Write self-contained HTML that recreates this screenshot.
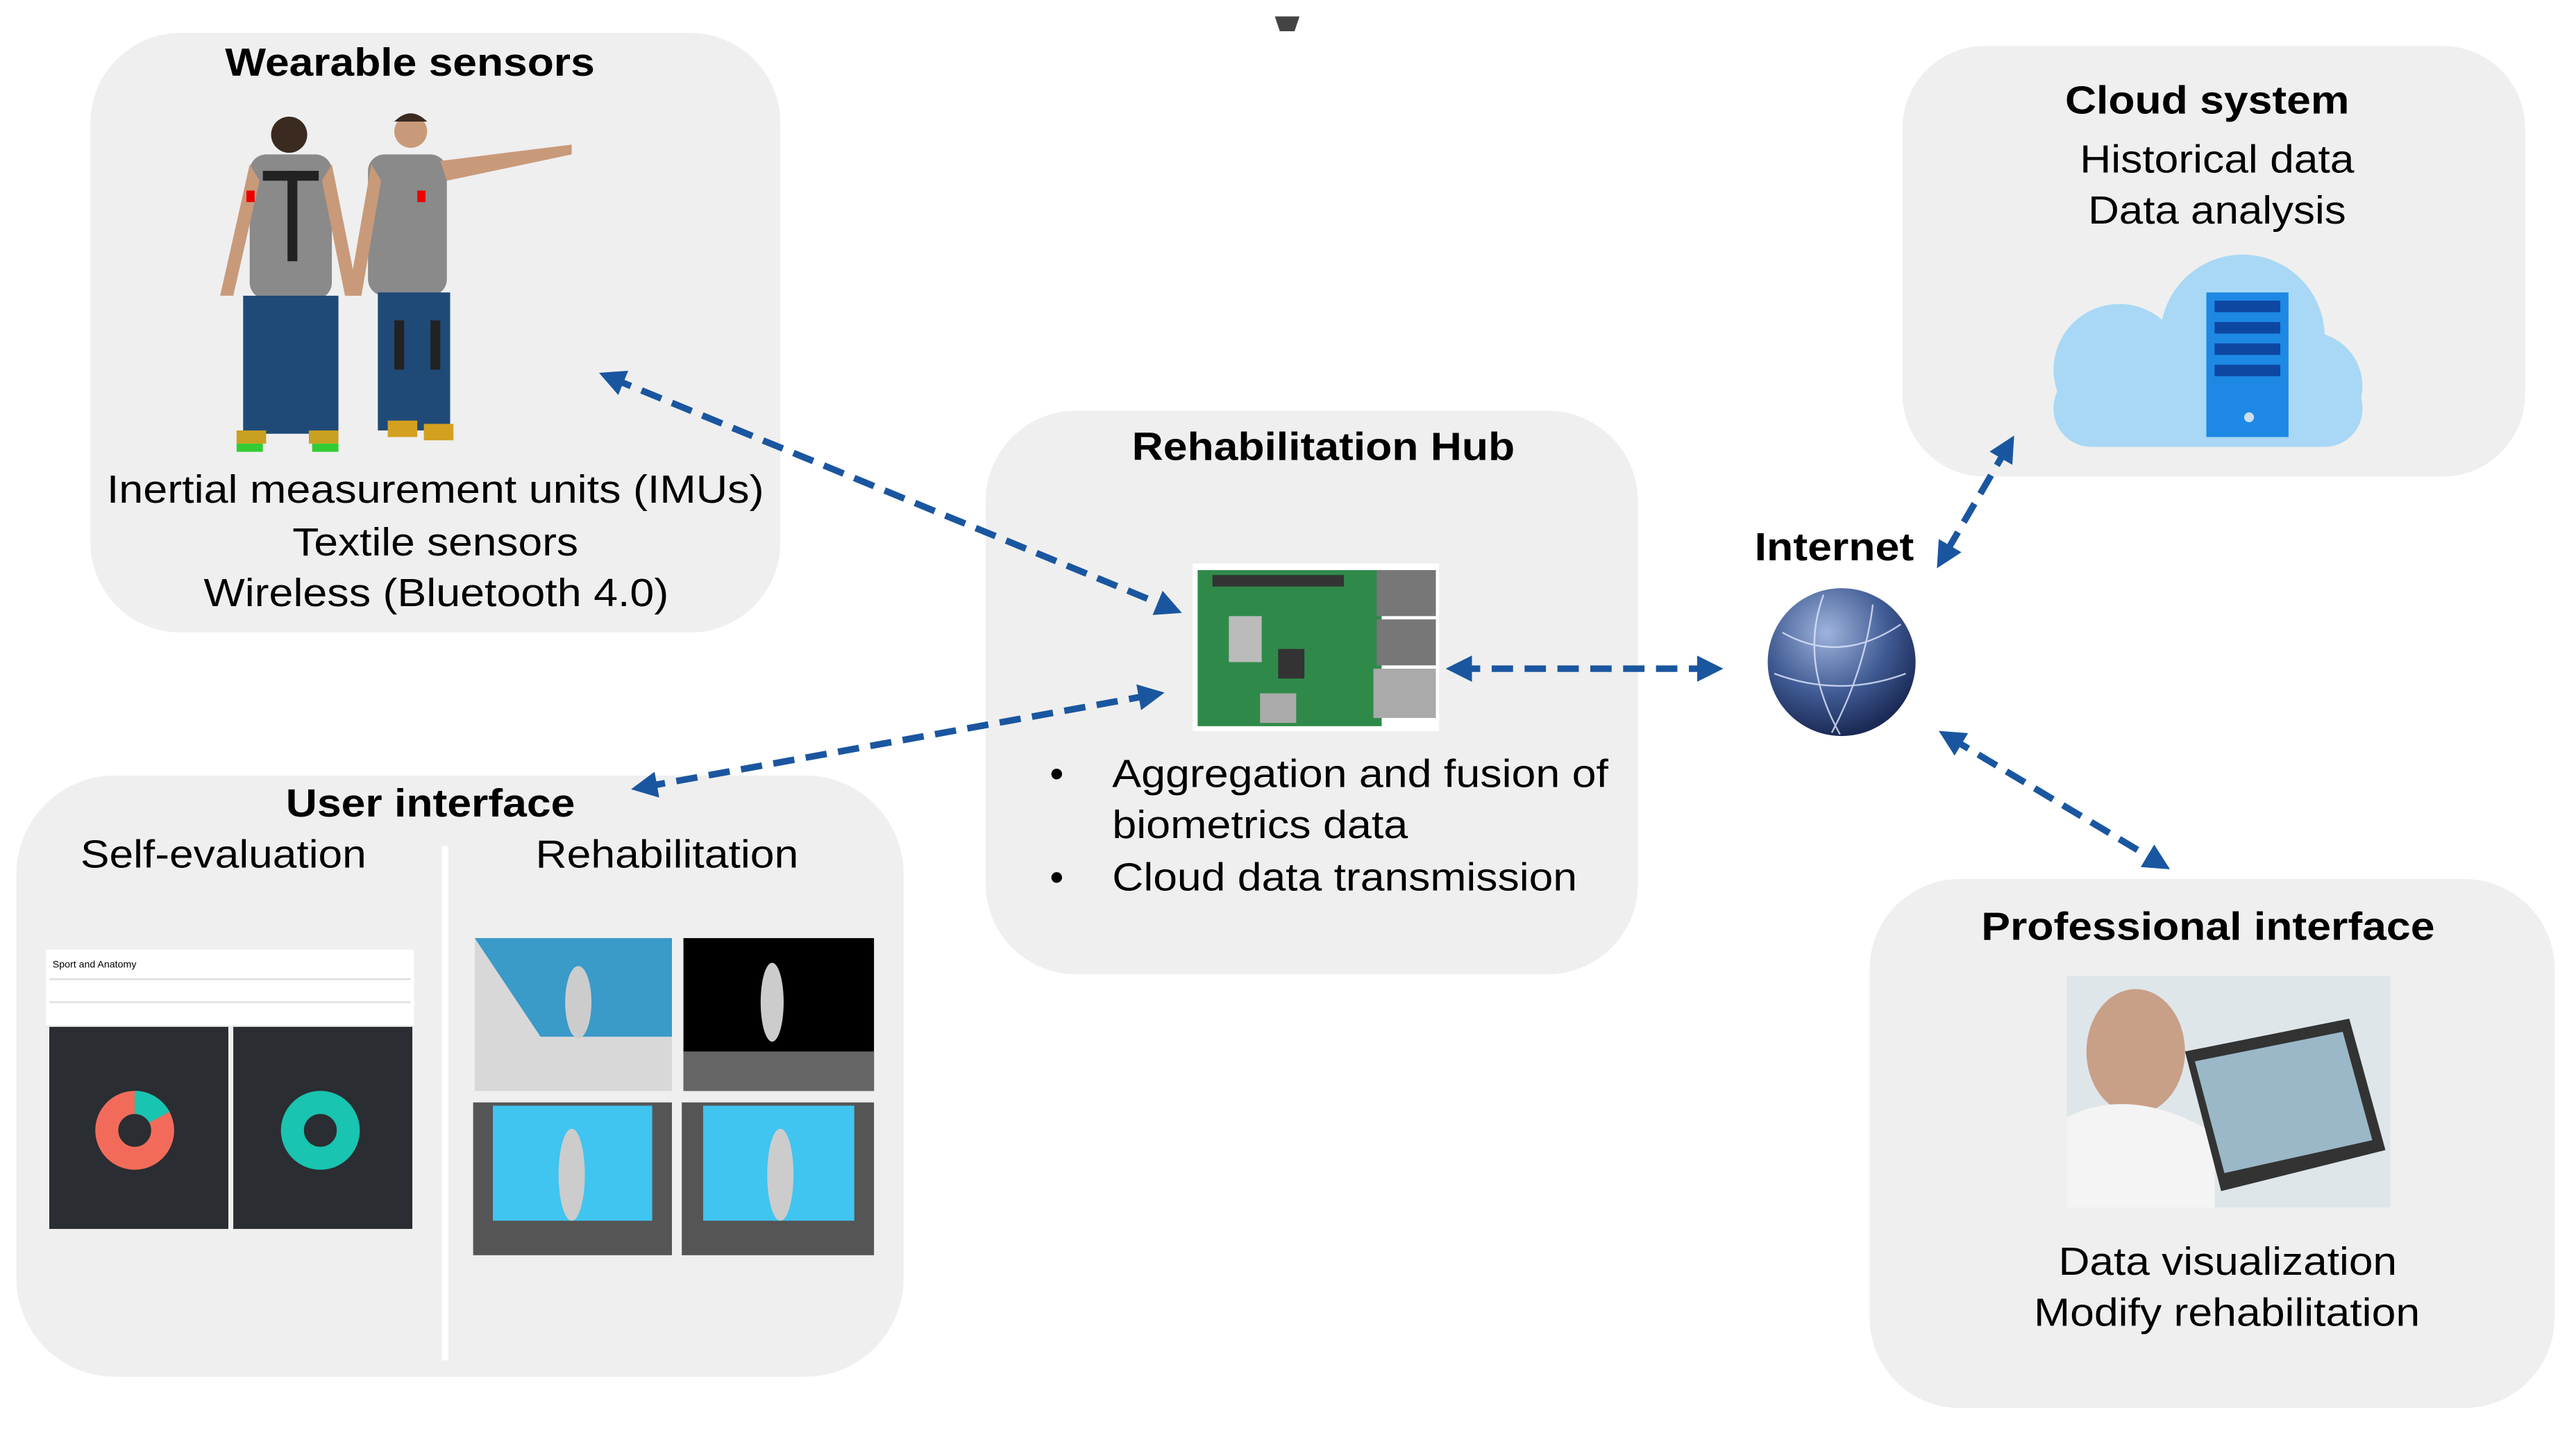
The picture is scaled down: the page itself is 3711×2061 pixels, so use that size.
<!DOCTYPE html>
<html><head><meta charset="utf-8"><style>
html,body{margin:0;padding:0;background:#fff;}
svg{display:block;}
text{font-family:"Liberation Sans",Arial,sans-serif;fill:#000;}
.t{font-size:24px;font-weight:bold;}
.b{font-size:24px;}
</style></head><body>
<svg width="3711" height="2061" viewBox="0 0 1568 871" preserveAspectRatio="none" xmlns="http://www.w3.org/2000/svg">
<defs>
<marker id="ah" viewBox="0 0 10 10" refX="5" refY="5" markerWidth="4" markerHeight="4" orient="auto-start-reverse">
<path d="M0,0 L10,5 L0,10 z" fill="#1a56a0"/></marker>
<radialGradient id="gl" cx="40%" cy="30%" r="70%"><stop offset="0" stop-color="#9fb4dc"/><stop offset="0.6" stop-color="#3f5a93"/><stop offset="1" stop-color="#1b2a55"/></radialGradient>
</defs>
<path d="M776,10 h15 l-3,9 h-9z" fill="#444"/>
<rect x="55" y="20" width="420" height="365" rx="55" fill="#efefef"/>
<rect x="1158" y="28" width="379" height="262" rx="50" fill="#efefef"/>
<rect x="600" y="250" width="397" height="343" rx="55" fill="#efefef"/>
<rect x="10" y="472" width="540" height="366" rx="60" fill="#efefef"/>
<rect x="1138" y="535" width="417" height="322" rx="55" fill="#efefef"/>

<text class="t" x="137" y="46" textLength="225" lengthAdjust="spacingAndGlyphs">Wearable sensors</text>
<g>
<circle cx="176" cy="82" r="11" fill="#3a2a20"/>
<rect x="152" y="94" width="50" height="88" rx="10" fill="#8a8a8a"/>
<rect x="175" y="104" width="6" height="55" fill="#222"/>
<rect x="160" y="104" width="34" height="6" fill="#222"/>
<path d="M152,100 l-18,80 h8 l16,-70z M202,100 l16,80 h-8 l-14,-70z" fill="#c89a7a"/>
<rect x="148" y="180" width="58" height="84" fill="#1f4a78"/>
<rect x="144" y="262" width="18" height="8" fill="#c9a020"/><rect x="188" y="262" width="18" height="8" fill="#c9a020"/>
<rect x="144" y="270" width="16" height="5" fill="#3c3"/><rect x="190" y="270" width="16" height="5" fill="#3c3"/>
<circle cx="250" cy="80" r="10" fill="#c89a7a"/><path d="M240,74 q10,-10 20,0z" fill="#3a2a20"/>
<rect x="224" y="94" width="48" height="86" rx="10" fill="#8a8a8a"/>
<path d="M268,98 L348,88 L348,94 L272,110z" fill="#c89a7a"/>
<path d="M226,100 l-14,80 h8 l12,-70z" fill="#c89a7a"/>
<rect x="230" y="178" width="44" height="84" fill="#1f4a78"/>
<rect x="240" y="195" width="6" height="30" fill="#222"/><rect x="262" y="195" width="6" height="30" fill="#222"/>
<rect x="254" y="116" width="5" height="7" fill="#e00"/><rect x="150" y="116" width="5" height="7" fill="#e00"/>
<rect x="236" y="256" width="18" height="10" fill="#d4a020"/><rect x="258" y="258" width="18" height="10" fill="#d4a020"/>
</g>
<text class="b" x="65" y="306" textLength="400" lengthAdjust="spacingAndGlyphs">Inertial measurement units (IMUs)</text>
<text class="b" x="178" y="338" textLength="174" lengthAdjust="spacingAndGlyphs">Textile sensors</text>
<text class="b" x="124" y="369" textLength="283" lengthAdjust="spacingAndGlyphs">Wireless (Bluetooth 4.0)</text>

<text class="t" x="1257" y="69" textLength="173" lengthAdjust="spacingAndGlyphs">Cloud system</text>
<text class="b" x="1266" y="105" textLength="167" lengthAdjust="spacingAndGlyphs">Historical data</text>
<text class="b" x="1271" y="136" textLength="157" lengthAdjust="spacingAndGlyphs">Data analysis</text>
<g fill="#a8d8f5">
<circle cx="1290" cy="225" r="40"/><circle cx="1365" cy="205" r="50"/><circle cx="1405" cy="235" r="33"/>
<rect x="1250" y="225" width="188" height="47" rx="23"/>
</g>
<rect x="1343" y="178" width="50" height="88" fill="#1e88e5"/>
<g fill="#0d47a1"><rect x="1348" y="183" width="40" height="7"/><rect x="1348" y="196" width="40" height="7"/><rect x="1348" y="209" width="40" height="7"/><rect x="1348" y="222" width="40" height="7"/></g>
<circle cx="1369" cy="254" r="3" fill="#cde"/>

<text class="t" x="689" y="280" textLength="233" lengthAdjust="spacingAndGlyphs">Rehabilitation Hub</text>
<rect x="726" y="343" width="150" height="102" fill="#fff"/>
<rect x="729" y="347" width="112" height="95" fill="#2f8a4a"/>
<rect x="738" y="350" width="80" height="7" fill="#333"/>
<rect x="838" y="347" width="36" height="28" fill="#777"/><rect x="838" y="377" width="36" height="28" fill="#777"/><rect x="836" y="407" width="38" height="30" fill="#aaa"/>
<rect x="748" y="375" width="20" height="28" fill="#bbb"/><rect x="778" y="395" width="16" height="18" fill="#333"/>
<rect x="767" y="422" width="22" height="18" fill="#aaa"/>
<text class="b" x="639" y="479">•</text><text class="b" x="677" y="479" textLength="302" lengthAdjust="spacingAndGlyphs">Aggregation and fusion of</text>
<text class="b" x="677" y="510" textLength="180" lengthAdjust="spacingAndGlyphs">biometrics data</text>
<text class="b" x="639" y="542">•</text><text class="b" x="677" y="542" textLength="283" lengthAdjust="spacingAndGlyphs">Cloud data transmission</text>

<text class="t" x="1068" y="341" textLength="97" lengthAdjust="spacingAndGlyphs">Internet</text>
<ellipse cx="1121" cy="403" rx="45" ry="45" fill="url(#gl)"/>
<g stroke="#dfe8ff" stroke-width="1" fill="none" opacity="0.8"><path d="M1085,385 q35,20 72,-5"/><path d="M1080,410 q40,15 80,0"/><path d="M1110,362 q-15,40 10,85"/><path d="M1140,368 q-5,40 -25,78"/></g>

<text class="t" x="174" y="497" textLength="176" lengthAdjust="spacingAndGlyphs">User interface</text>
<text class="b" x="49" y="528" textLength="174" lengthAdjust="spacingAndGlyphs">Self-evaluation</text>
<text class="b" x="326" y="528" textLength="160" lengthAdjust="spacingAndGlyphs">Rehabilitation</text>
<rect x="269" y="515" width="4" height="313" fill="#fff"/>
<rect x="28" y="578" width="224" height="46" fill="#fff"/>
<text x="32" y="589" style="font-size:6px">Sport and Anatomy</text>
<line x1="30" y1="596" x2="250" y2="596" stroke="#ddd"/><line x1="30" y1="610" x2="250" y2="610" stroke="#ddd"/>
<rect x="30" y="625" width="109" height="123" fill="#2a2d32"/>
<rect x="142" y="625" width="109" height="123" fill="#2a2d32"/>
<circle cx="82" cy="688" r="17" fill="none" stroke="#f26b5a" stroke-width="14"/>
<path d="M82,671 a17,17 0 0 1 15,9" fill="none" stroke="#19c4b0" stroke-width="14"/>
<circle cx="195" cy="688" r="17" fill="none" stroke="#19c4b0" stroke-width="14"/>
<rect x="289" y="571" width="120" height="93" fill="#d8d8d8"/><path d="M289,571 h120 v60 l-80,0 -40,-60z" fill="#3a9ac8"/>
<rect x="416" y="571" width="116" height="93" fill="#000"/><path d="M416,640 h116 v24 h-116z" fill="#666"/>
<rect x="288" y="671" width="121" height="93" fill="#555"/><rect x="300" y="673" width="97" height="70" fill="#40c4f0"/>
<rect x="415" y="671" width="117" height="93" fill="#555"/><rect x="428" y="673" width="92" height="70" fill="#40c4f0"/>
<g fill="#ccc"><ellipse cx="352" cy="610" rx="8" ry="22"/><ellipse cx="470" cy="610" rx="7" ry="24"/><ellipse cx="348" cy="715" rx="8" ry="28"/><ellipse cx="475" cy="715" rx="8" ry="28"/></g>

<text class="t" x="1206" y="572" textLength="276" lengthAdjust="spacingAndGlyphs">Professional interface</text>
<rect x="1258" y="594" width="197" height="141" fill="#dfe6ea"/>
<ellipse cx="1300" cy="640" rx="30" ry="38" fill="#c8a088"/>
<path d="M1258,680 q40,-20 90,10 v45 h-90z" fill="#f4f4f4"/>
<path d="M1330,640 l100,-20 l22,80 l-100,25z" fill="#333"/><path d="M1336,646 l90,-18 l18,66 l-90,20z" fill="#9bb8c8"/>
<text class="b" x="1253" y="776" textLength="206" lengthAdjust="spacingAndGlyphs">Data visualization</text>
<text class="b" x="1238" y="807" textLength="235" lengthAdjust="spacingAndGlyphs">Modify rehabilitation</text>

<g stroke="#1a56a0" stroke-width="4" stroke-dasharray="13,7" fill="none" marker-start="url(#ah)" marker-end="url(#ah)">
<line x1="372" y1="230" x2="712" y2="370"/>
<line x1="392" y1="479" x2="701" y2="423"/>
<line x1="888" y1="407" x2="1041" y2="407"/>
<line x1="1222" y1="272" x2="1183" y2="339"/>
<line x1="1187" y1="449" x2="1314" y2="525"/>
</g>
</svg>
</body></html>
